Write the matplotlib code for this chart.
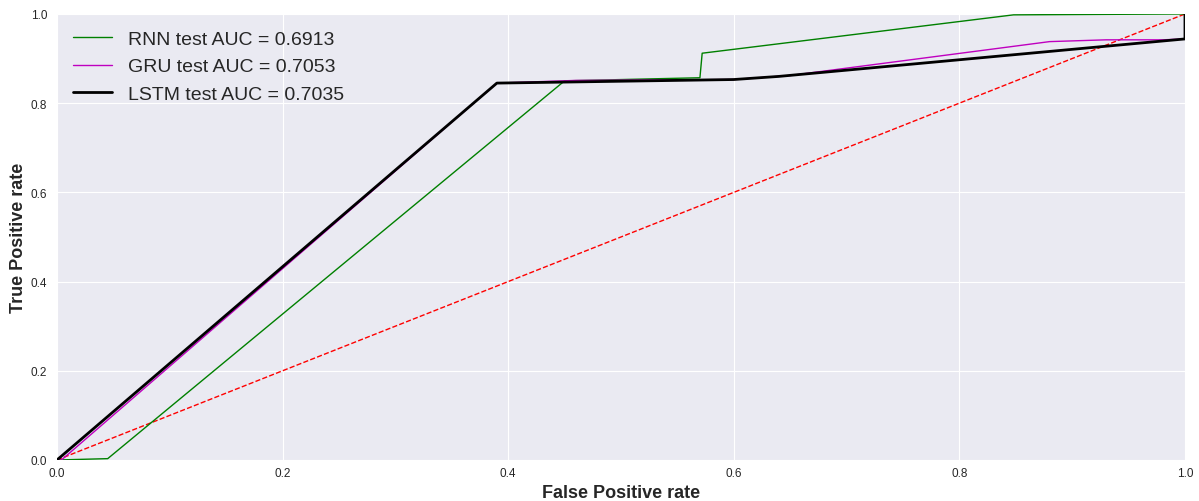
import matplotlib
matplotlib.use("Agg")
import matplotlib.pyplot as plt

plt.style.use("seaborn-v0_8-darkgrid")
plt.rcParams['font.family'] = ['Liberation Sans', 'DejaVu Sans']

rnn_fpr = [0.0, 0.045, 0.45, 0.570, 0.572, 0.848, 1.0]
rnn_tpr = [0.0, 0.003, 0.850, 0.857, 0.912, 0.998, 1.0]

gru_fpr = [0.0, 0.004, 0.39, 0.46, 0.60, 0.65, 0.88, 0.93, 0.98, 1.0, 1.0]
gru_tpr = [0.0, 0.0, 0.845, 0.851, 0.853, 0.862, 0.938, 0.942, 0.942, 0.944, 1.0]

lstm_fpr = [0.0, 0.39, 0.60, 0.64, 1.0, 1.0]
lstm_tpr = [0.0, 0.845, 0.853, 0.860, 0.944, 1.0]

rnn_label = "RNN test AUC = 0.6913"
gru_label = "GRU test AUC = 0.7053"
lstm_label = "LSTM test AUC = 0.7035"

fig = plt.figure(figsize=(11.99, 5.02), dpi=100)
ax = fig.add_axes([0.0475, 0.0817, 0.9408, 0.8885])

ax.plot([0, 1], [0, 1], linestyle='--', color='red', linewidth=1)
ax.plot(rnn_fpr, rnn_tpr, color='green', linewidth=1, label=rnn_label)
ax.plot(gru_fpr, gru_tpr, color='m', linewidth=1, label=gru_label)
ax.plot(lstm_fpr, lstm_tpr, color='black', linewidth=2, label=lstm_label)

ax.set_xlim(0, 1)
ax.set_ylim(0, 1)
ax.tick_params(axis='both', labelsize=8.5)
ax.tick_params(axis='x', pad=5)
ax.tick_params(axis='y', pad=7)
ax.set_xlabel("False Positive rate", fontsize=13, fontweight='bold', labelpad=4)
ax.set_ylabel("True Positive rate", fontsize=13, fontweight='bold', labelpad=3)
ax.legend(loc='upper left', fontsize=14, borderaxespad=0.45)

fig.savefig("out.png", dpi=100)
